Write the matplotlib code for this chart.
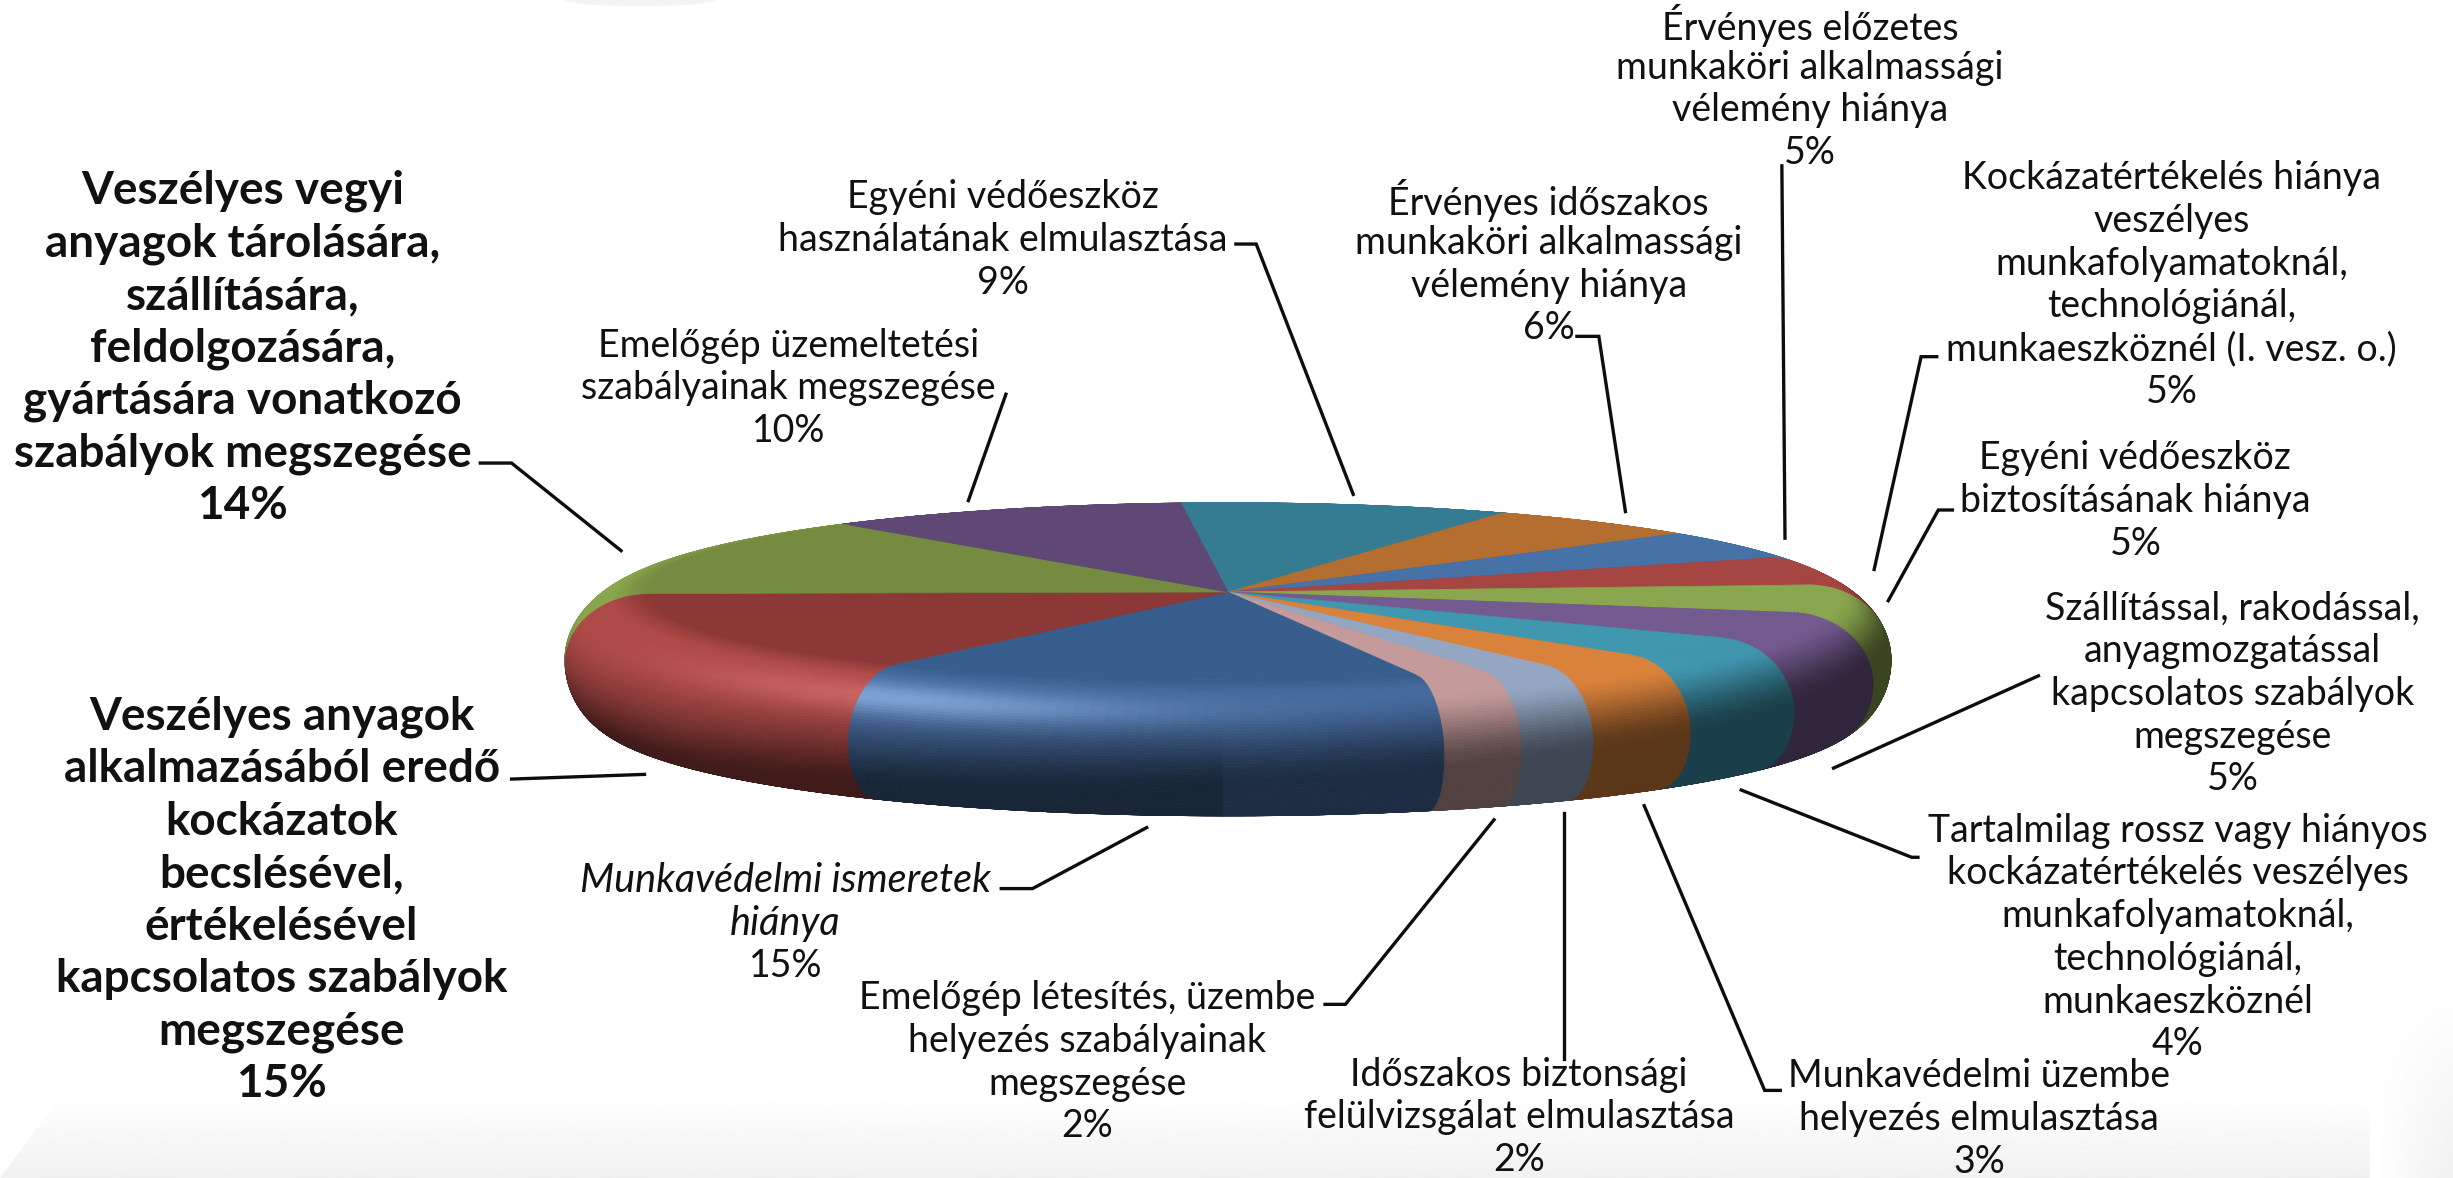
import numpy as np
import matplotlib
matplotlib.use("Agg")
import matplotlib.pyplot as plt
from matplotlib.collections import PolyCollection
from matplotlib.colors import to_rgb
from matplotlib.patches import Polygon, Ellipse
from matplotlib.transforms import Affine2D

W, H = 2453, 1178
S = W / 1568.0

# ---- data: slices clockwise from the top ----
values = [9, 6, 5, 5, 5, 5, 4, 3, 2, 2, 15, 15, 14, 10]
top_colors = ['#357C92', '#B36E30', '#4672A8', '#A64642', '#8AA64E', '#735A8F', '#4097B0',
              '#D9823B', '#94A6C2', '#C49A9A', '#375E8C', '#8C3836', '#748B40', '#5F4876']
side_colors = ['#357C92', '#B36E30', '#4672A8', '#A64642', '#8AA64E', '#735A8F', '#4097B0',
               '#D9823B', '#94A6C2', '#C49A9A', '#44699C', '#AE4A47', '#8AA64E', '#5F4876']
highlight = [0, 0, 0, 0, 0, 0, 0, 0, 0, 0, 0.22, 0.10, 0, 0]
labels = [
    ['Egyéni védőeszköz', 'használatának elmulasztása', '9%'],
    ['Érvényes időszakos', 'munkaköri alkalmassági', 'vélemény hiánya', '6%'],
    ['Érvényes előzetes', 'munkaköri alkalmassági', 'vélemény hiánya', '5%'],
    ['Kockázatértékelés hiánya', 'veszélyes', 'munkafolyamatoknál,', 'technológiánál,',
     'munkaeszköznél (I. vesz. o.)', '5%'],
    ['Egyéni védőeszköz', 'biztosításának hiánya', '5%'],
    ['Szállítással, rakodással,', 'anyagmozgatással', 'kapcsolatos szabályok', 'megszegése', '5%'],
    ['Tartalmilag rossz vagy hiányos', 'kockázatértékelés veszélyes', 'munkafolyamatoknál,',
     'technológiánál,', 'munkaeszköznél', '4%'],
    ['Munkavédelmi üzembe', 'helyezés elmulasztása', '3%'],
    ['Időszakos biztonsági', 'felülvizsgálat elmulasztása', '2%'],
    ['Emelőgép létesítés, üzembe', 'helyezés szabályainak', 'megszegése', '2%'],
    ['Munkavédelmi ismeretek', 'hiánya', '15%'],
    ['Veszélyes anyagok', 'alkalmazásából eredő', 'kockázatok', 'becslésével,', 'értékelésével',
     'kapcsolatos szabályok', 'megszegése', '15%'],
    ['Veszélyes vegyi', 'anyagok tárolására,', 'szállítására,', 'feldolgozására,',
     'gyártására vonatkozó', 'szabályok megszegése', '14%'],
    ['Emelőgép üzemeltetési', 'szabályainak megszegése', '10%'],
]
styles = ['r'] * 10 + ['i', 'b', 'b', 'r']
# label anchors (centre x, first-line y) in the shrunk view's units
anchors = [(641, 126), (990, 128), (1157, 16), (1388, 114), (1365, 293), (1427, 389), (1392, 531),
           (1265, 688), (971, 687), (695, 638), (502, 563), (180, 458), (155, 122), (504, 221)]
leaders = [
    [(790, 156), (803, 156), (865, 316)],
    [(1008, 215), (1022, 215), (1039, 327)],
    [(1139, 106), (1141, 344)],
    [(1238, 228), (1228, 228), (1198, 364)],
    [(1248, 326), (1239, 326), (1207, 384)],
    [(1303, 432), (1172, 491)],
    [(1226, 548), (1222, 548), (1113, 505)],
    [(1138, 697), (1128, 697), (1051, 515)],
    [(1000, 677), (1000, 520)],
    [(847, 642), (860, 642), (955, 524)],
    [(640, 568), (660, 568), (733, 529)],
    [(327, 498), (412, 495)],
    [(307, 296), (327, 296), (397, 352)],
    [(643, 252), (619, 320)],
]

START = -4.6      # clockwise degrees from top where the first slice begins
CX, CY = 1228.0, 592.0
RX, RY = 580.0, 88.0
RATIO = RY / RX

fig = plt.figure(figsize=(W / 100, H / 100), dpi=100, facecolor='white')
ax = fig.add_axes([0, 0, 1, 1])

# ---- faint backdrop at the lower edge ----
grad = np.linspace(1, 0, 80).reshape(-1, 1)
im = ax.imshow(grad, extent=(0, W, H, 1095), cmap='gray', vmin=-17, vmax=1, aspect='auto',
               origin='upper', interpolation='bilinear', zorder=0)
im.set_clip_path(Polygon([(62, 1095), (2350, 1095), (W, 1178), (0, 1178)], transform=ax.transData))
ramp_x = np.linspace(1, 0, 30)
ramp_y = np.linspace(1, 0, 60)
strip = 1 - np.outer(1 - ramp_y, 1 - ramp_x)
im2 = ax.imshow(strip, extent=(2370, W, H, 980), cmap='gray', vmin=-17, vmax=1,
                aspect='auto', origin='upper', interpolation='bilinear', zorder=0)
ax.add_patch(Ellipse((640, 0), 150, 12, fc='#F4F4F4', ec='none', zorder=0))

# ---- rounded rim: rings from bottom to top ----
edges = START + np.cumsum([0] + values) * 3.6
n_t = 70
def ring(t):
    if t <= 0.5:
        p = t * np.pi
        return RX + 83 * np.sin(p), CY + 68 * (1 - np.cos(p))
    p = (t - 0.5) * np.pi
    return 608 + 55 * np.cos(p), 660 + 63 * np.sin(p)

def shade(t, th):
    th_c = np.clip(th, 100, 235)
    w = (th_c - 100) / 135
    t_d = 0.40 + w * 0.40
    t0 = 0.12 + w * 0.14
    lo = 0.42 if th < 180 else 0.36
    if t < t0:
        f = 1.0
    elif t < t_d:
        u = (t - t0) / (t_d - t0)
        f = 1 - (1 - lo) * (u * u * (3 - 2 * u))
    else:
        f = lo
    return f

verts, cols = [], []
ts = np.linspace(1, 0, n_t + 1)
for k in range(n_t):
    t1, t0 = ts[k], ts[k + 1]
    r1, c1 = ring(t1)
    r0, c0 = ring(t0)
    for v_i in range(len(values)):
        a0, a1 = edges[v_i], edges[v_i + 1]
        m = max(2, int((a1 - a0) / 1.5))
        ang = np.linspace(a0, a1, m + 1)
        base = np.array(to_rgb(side_colors[v_i]))
        flat = np.array(to_rgb(top_colors[v_i]))
        for j in range(m):
            q0, q1 = np.radians(ang[j]), np.radians(ang[j + 1])
            mid = (ang[j] + ang[j + 1]) / 2
            tm = (t0 + t1) / 2
            poly = [(CX + r1 * np.sin(q0), c1 - r1 * RATIO * np.cos(q0)),
                    (CX + r1 * np.sin(q1), c1 - r1 * RATIO * np.cos(q1)),
                    (CX + r0 * np.sin(q1), c0 - r0 * RATIO * np.cos(q1)),
                    (CX + r0 * np.sin(q0), c0 - r0 * RATIO * np.cos(q0))]
            mix = min(1.0, tm / 0.14)
            c = (flat * (1 - mix) + base * mix) * shade(tm, mid)
            hl = np.exp(-((tm - 0.27) / 0.09) ** 2) * np.exp(-((mid - 212) / 24.0) ** 2)
            c = c + highlight[v_i] * hl
            verts.append(poly)
            cols.append(tuple(np.clip(c, 0, 1)))
ax.add_collection(PolyCollection(verts, facecolors=cols, edgecolors=cols, linewidths=0.7, zorder=2))

# ---- flat top of the pie ----
wedges, _ = ax.pie(values, colors=top_colors, startangle=START - 90, counterclock=True,
                   wedgeprops={'linewidth': 0})
aff = Affine2D().scale(RX, RY).translate(CX, CY) + ax.transData
for w in wedges:
    w.set_transform(aff)
    w.set_zorder(3)
    w.set_edgecolor(w.get_facecolor())
    w.set_linewidth(0.5)
    w.set_clip_on(False)

ax.set_aspect('auto')
ax.set_xlim(0, W)
ax.set_ylim(H, 0)
ax.set_axis_off()

# ---- leaders ----
for pts in leaders:
    arr = np.array(pts, dtype=float) * S
    ax.plot(arr[:, 0], arr[:, 1], color='#0d0d0d', lw=2.4, solid_joinstyle='miter', zorder=4)

# ---- labels ----
for lines, (x, y), st in zip(labels, anchors, styles):
    bold = st == 'b'
    pitch = (33.6 if bold else 27.3) * S
    for i, line in enumerate(lines):
        is_pct = i == len(lines) - 1
        size = 33 if bold else (28.5 if st == 'i' and not is_pct else 27)
        ax.text(x * S, y * S + i * pitch, line, ha='center', va='center', color='#111111',
                family='Lato', fontsize=size,
                fontweight='bold' if bold else 'normal',
                fontstyle='italic' if st == 'i' and not is_pct else 'normal', zorder=5)

fig.savefig('out.png', dpi=100, facecolor='white')
